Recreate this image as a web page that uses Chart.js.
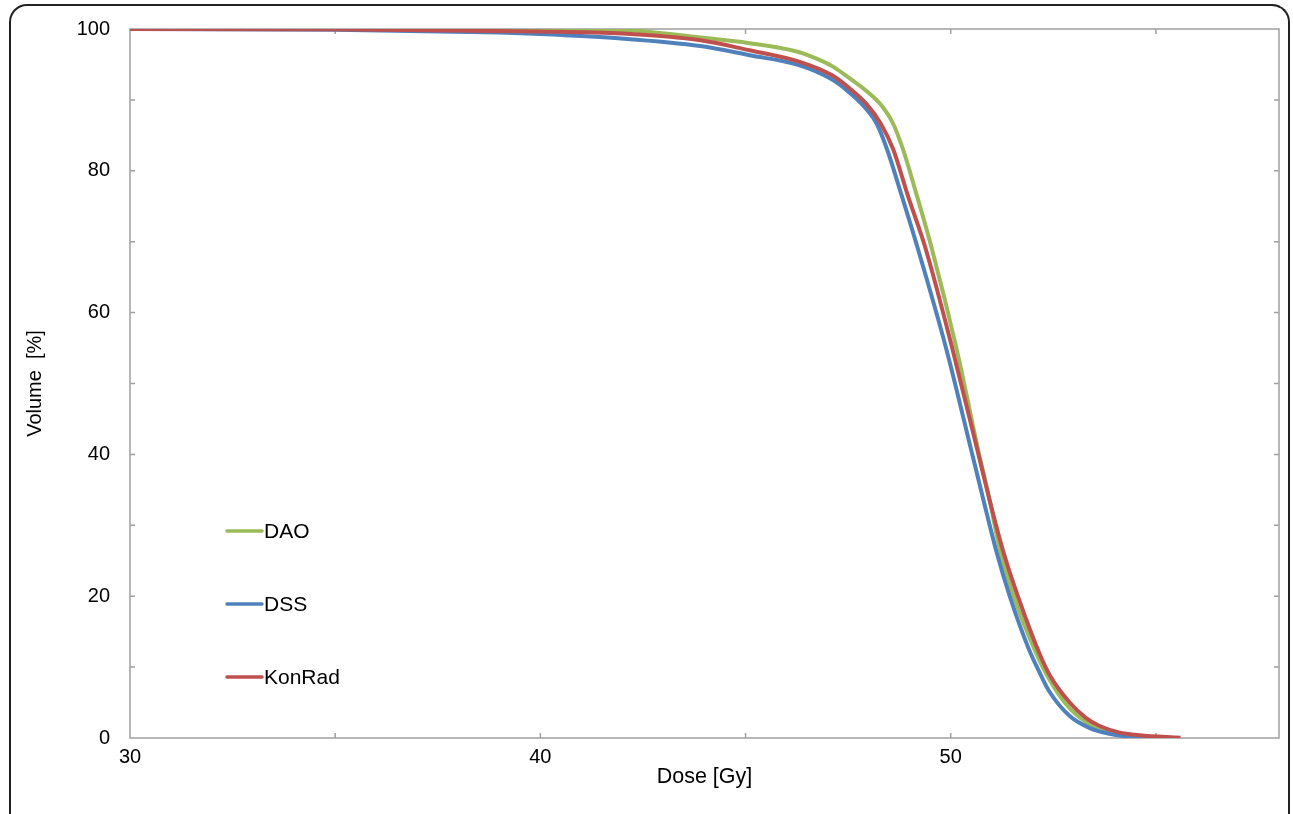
<!DOCTYPE html>
<html>
<head>
<meta charset="UTF-8">
<title>Dose volume histogram</title>
<style>
  html, body { margin: 0; padding: 0; background: #fff; overflow: hidden; }
  #wrap { position: absolute; left: 0; top: 0; width: 1293px; height: 814px; }
  /* rounded outer box, open at the bottom like the figure crop */
  #box { position: absolute; left: 9px; top: 4px; width: 1277px; height: 900px;
         border: 2px solid #222; border-bottom: none; border-radius: 18px 18px 0 0;
         pointer-events: none; }
</style>
</head>
<body>
<div id="wrap"><canvas id="chart" width="1293" height="814"></canvas></div>
<div id="box"></div>
<script src="https://cdn.jsdelivr.net/npm/chart.js@4/dist/chart.umd.min.js"></script>
<script>
// values: dose [Gy] -> volume [%]
const daoDose = [30, 35, 40, 42, 43.9, 45.1, 46.2, 46.7, 47.1, 47.5, 48.0, 48.3, 48.6, 48.85, 49.15, 49.55, 50.15, 50.67, 50.95, 51.2, 51.56, 52.05, 52.4, 52.9, 53.45, 54.0, 54.6, 55.0];
const daoVol  = [100, 100, 99.95, 99.85, 98.8, 98.0, 96.9, 95.9, 94.8, 93.2, 91.0, 89.3, 86.6, 82.8, 77.0, 68.8, 54.7, 40.6, 33.5, 26.5, 19.6, 12.4, 8.3, 4.2, 1.7, 0.6, 0.1, 0];

const dssDose = [30, 35, 39, 40, 41.9, 43.9, 45.1, 46.3, 47.1, 47.5, 47.9, 48.2, 48.45, 48.8, 49.2, 49.9, 50.5, 50.8, 51.1, 51.45, 51.9, 52.17, 52.4, 52.9, 53.39, 53.87, 54.4, 54.9];
const dssVol  = [100, 99.9, 99.5, 99.3, 98.7, 97.6, 96.3, 94.9, 92.9, 91.2, 89.0, 86.6, 83.0, 76.6, 69.0, 54.7, 40.6, 33.5, 26.6, 19.8, 12.6, 9.2, 6.6, 3.1, 1.4, 0.6, 0.15, 0];

const konDose = [30, 35, 40, 42, 43.9, 45.1, 46.3, 47.1, 47.5, 47.95, 48.3, 48.6, 48.95, 49.4, 50.05, 50.65, 50.95, 51.27, 51.66, 52.17, 52.41, 52.9, 53.3, 53.63, 54.1, 54.6, 55.6];
const konVol  = [100, 99.95, 99.65, 99.35, 98.4, 97.0, 95.4, 93.5, 91.8, 89.4, 86.6, 83.0, 76.6, 68.8, 54.7, 40.6, 33.5, 26.5, 19.6, 11.8, 8.9, 5.0, 2.8, 1.7, 0.8, 0.4, 0.05];

const seriesNames = ['DAO', 'DSS', 'KonRad'];
const seriesColors = ['#9BBB59', '#4F81BD', '#C0504D'];

const xTickLabels = [30, 40, 50];
const yTickLabels = [0, 20, 40, 60, 80, 100];

const toPoints = (xs, ys) => xs.map((d, i) => ({x: d, y: ys[i]}));

Chart.defaults.font.family = "'Liberation Sans', Arial, sans-serif";
Chart.defaults.font.size = 20;
Chart.defaults.color = '#000';

// gray box round the plot with small inward ticks on all four sides
const framePlugin = {
  id: 'frame',
  beforeDatasetsDraw(chart) {
    const {ctx, chartArea: a, scales: {x, y}} = chart;
    ctx.save();
    ctx.strokeStyle = '#a0a0a0';
    ctx.lineWidth = 1.5;
    ctx.strokeRect(a.left, a.top, a.right - a.left, a.bottom - a.top);
    ctx.beginPath();
    for (let v = 35; v < 58; v += 5) {
      const px = x.getPixelForValue(v);
      ctx.moveTo(px, a.bottom); ctx.lineTo(px, a.bottom - 5);
      ctx.moveTo(px, a.top); ctx.lineTo(px, a.top + 5);
    }
    for (let v = 10; v < 100; v += 10) {
      const py = y.getPixelForValue(v);
      ctx.moveTo(a.left, py); ctx.lineTo(a.left + 5, py);
      ctx.moveTo(a.right, py); ctx.lineTo(a.right - 5, py);
    }
    ctx.stroke();
    ctx.restore();
  }
};

// legend sits inside the plot, one entry per row
const legendPlugin = {
  id: 'insideLegend',
  afterDatasetsDraw(chart) {
    const {ctx, chartArea: a} = chart;
    ctx.save();
    ctx.font = "21px 'Liberation Sans', Arial, sans-serif";
    ctx.textBaseline = 'middle';
    ctx.textAlign = 'left';
    ctx.lineWidth = 3.5;
    ctx.lineCap = 'round';
    chart.data.datasets.forEach((ds, i) => {
      const yy = a.top + 502 + i * 73;
      const x0 = a.left + 97;
      ctx.strokeStyle = ds.borderColor;
      ctx.beginPath();
      ctx.moveTo(x0, yy); ctx.lineTo(x0 + 35, yy);
      ctx.stroke();
      ctx.fillStyle = '#000';
      ctx.fillText(ds.label, x0 + 37, yy + 1);
    });
    ctx.restore();
  }
};

const datasets = [
  {label: seriesNames[0], data: toPoints(daoDose, daoVol), borderColor: seriesColors[0], order: 2},
  {label: seriesNames[1], data: toPoints(dssDose, dssVol), borderColor: seriesColors[1], order: 1},
  {label: seriesNames[2], data: toPoints(konDose, konVol), borderColor: seriesColors[2], order: 0}
].map(ds => Object.assign(ds, {
  borderWidth: 4,
  pointRadius: 0,
  fill: false,
  cubicInterpolationMode: 'monotone'
}));

new Chart(document.getElementById('chart'), {
  type: 'line',
  data: {datasets},
  plugins: [framePlugin, legendPlugin],
  options: {
    responsive: false,
    animation: false,
    layout: {padding: {top: 29, right: 14, left: 0, bottom: 0}},
    plugins: {legend: {display: false}, tooltip: {enabled: false}},
    scales: {
      x: {
        type: 'linear',
        min: 30, max: 58,
        border: {display: false},
        grid: {display: false, drawTicks: false},
        ticks: {
          stepSize: 10, includeBounds: false, padding: 7,
          callback: v => xTickLabels.includes(v) ? String(v) : ''
        },
        title: {display: true, text: 'Dose [Gy]', font: {size: 21.5}, padding: {top: 0, bottom: 24}},
        afterFit: s => { s.height = 76; }
      },
      y: {
        min: 0, max: 100,
        border: {display: false},
        grid: {display: false, drawTicks: false},
        ticks: {
          stepSize: 20, padding: 20,
          callback: v => yTickLabels.includes(v) ? String(v) : ''
        },
        title: {display: true, text: 'Volume  [%]', padding: {top: 23, bottom: 0}},
        // label padding would push the plot top down; keep only half a label
        afterFit: s => { s.width = 130; s.paddingTop = 12; s.paddingBottom = 12; }
      }
    }
  }
});
</script>
</body>
</html>
